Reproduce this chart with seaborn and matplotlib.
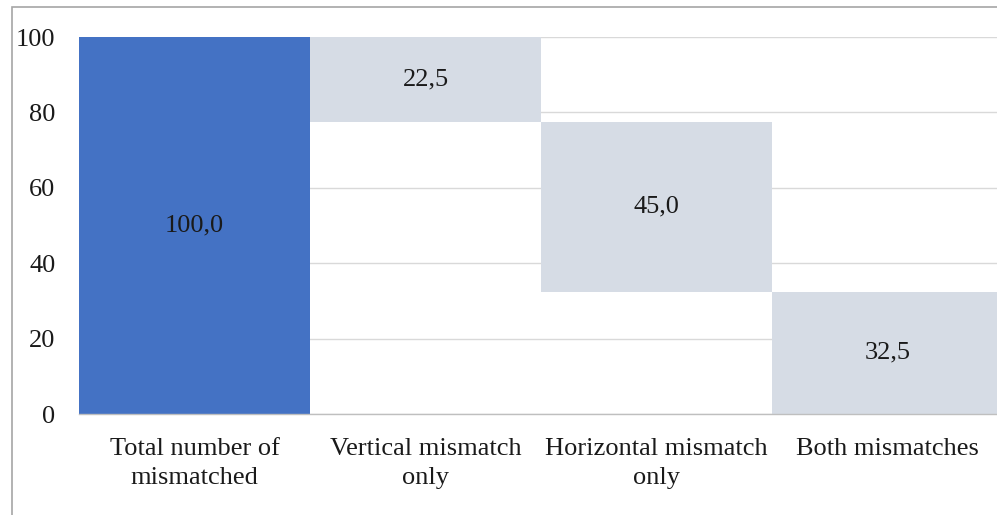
import matplotlib
matplotlib.use("Agg")
import matplotlib.pyplot as plt
import seaborn as sns
import pandas as pd

# waterfall data
categories = ["Total number of\nmismatched", "Vertical mismatch\nonly",
              "Horizontal mismatch\nonly", "Both mismatches"]
values = [100.0, 22.5, 45.0, 32.5]
bases = [0.0, 77.5, 32.5, 0.0]
colors = ["#4472C4", "#D6DCE5", "#D6DCE5", "#D6DCE5"]

df = pd.DataFrame({"cat": categories, "val": values, "base": bases})

sns.set_style("white")
plt.rcParams["font.family"] = ["Liberation Serif", "DejaVu Serif"]

fig = plt.figure(figsize=(9.97, 5.15), dpi=100)
ax = fig.add_axes([0.0792, 0.196, 0.927, 0.732])

# one bar call so the bottoms line up with the bars
sns.barplot(data=df, x="cat", y="val", bottom=bases, width=1.0, saturation=1,
            color=colors[1], linewidth=0, ax=ax, zorder=2)
for p, c in zip(ax.patches, colors):
    p.set_facecolor(c)

for i, (v, b) in enumerate(zip(values, bases)):
    ax.text(i, b + v / 2, f"{v:.1f}".replace(".", ","), ha="center", va="center",
            fontsize=19, color="#1a1a1a", zorder=3)

ax.set_ylim(0, 100)
ax.set_xlim(-0.5, 3.5)
ax.set_yticks(range(0, 101, 20))
ax.yaxis.grid(True, color="#D9D9D9", linewidth=1, zorder=0)
ax.set_axisbelow(True)
ax.tick_params(axis="both", length=0, labelsize=19, colors="#1a1a1a")
ax.tick_params(axis="y", pad=17)
ax.tick_params(axis="x", pad=17)
for lbl in ax.get_xticklabels():
    lbl.set_linespacing(1.45)
ax.set_xlabel("")
ax.set_ylabel("")
for s in ["top", "right", "left"]:
    ax.spines[s].set_visible(False)
ax.spines["bottom"].set_color("#BFBFBF")
ax.spines["bottom"].set_linewidth(1)

# outer chart frame
fig.patches.append(plt.Rectangle((12 / 997, -0.1), 1.2, 1 - 7 / 515 + 0.1,
                                 transform=fig.transFigure, fill=False,
                                 edgecolor="#A6A6A6", linewidth=1.2))

fig.savefig("out.png", dpi=100)
